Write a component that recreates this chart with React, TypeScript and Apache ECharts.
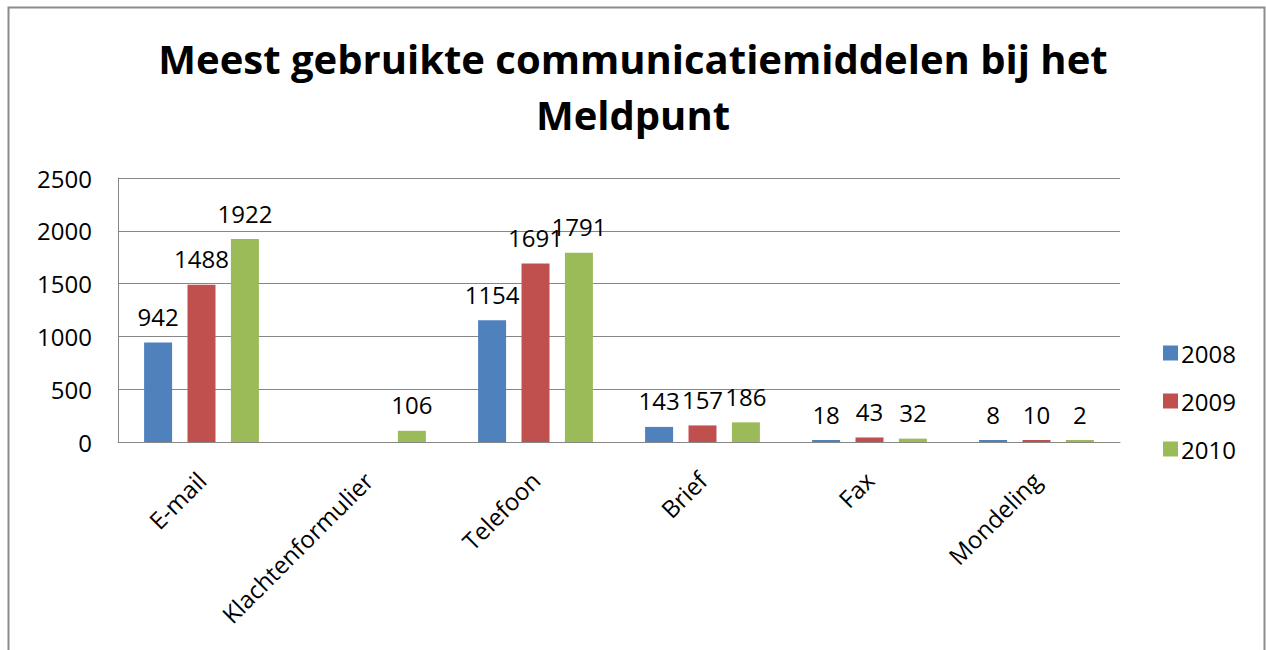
import React, { useEffect, useRef } from "react";
import * as echarts from "echarts";

const titleText = "Meest gebruikte communicatiemiddelen bij het\nMeldpunt";
const categories = ["E-mail", "Klachtenformulier", "Telefoon", "Brief", "Fax", "Mondeling"];
const seriesNames = ["2008", "2009", "2010"];
const values2008: (number | null)[] = [942, null, 1154, 143, 18, 8];
const values2009: (number | null)[] = [1488, null, 1691, 157, 43, 10];
const values2010: (number | null)[] = [1922, 106, 1791, 186, 32, 2];
const colors = ["#4F81BD", "#C0504D", "#9BBB59"];
const yTicks = { min: 0, max: 2500, interval: 500 };

const FONT = "'Open Sans', 'Noto Sans', sans-serif";

export default function App() {
  const ref = useRef<HTMLDivElement>(null);
  useEffect(() => {
    if (!ref.current) return;
    const chart = echarts.init(ref.current, null, { renderer: "svg" });
    const allValues = [values2008, values2009, values2010];
    chart.setOption({
      animation: false,
      backgroundColor: "#ffffff",
      textStyle: { fontFamily: FONT },
      title: {
        text: titleText,
        left: "center",
        top: 25,
        textStyle: {
          fontFamily: FONT,
          fontWeight: "bold",
          fontSize: 40,
          lineHeight: 56,
          color: "#000000",
        },
      },
      graphic: [
        {
          type: "rect",
          shape: { x: 8.5, y: 7.5, width: 1256, height: 660 },
          style: { fill: "none", stroke: "#8c8c8c", lineWidth: 2 },
          silent: true,
        },
      ],
      legend: {
        orient: "vertical",
        left: 1158,
        top: 336,
        itemWidth: 15,
        itemHeight: 15,
        itemGap: 24,
        icon: "rect",
        textStyle: { fontFamily: FONT, fontSize: 24, color: "#000000", padding: [0, 0, 0, -2] },
        data: seriesNames,
      },
      grid: { left: 118, right: 146, top: 178, bottom: 208, containLabel: false },
      xAxis: {
        type: "category",
        data: categories,
        axisLine: { show: true, lineStyle: { color: "#868686", width: 1 } },
        axisTick: { show: false },
        axisLabel: {
          rotate: 45,
          interval: 0,
          margin: 34,
          fontFamily: FONT,
          fontSize: 24,
          color: "#000000",
        },
      },
      yAxis: {
        type: "value",
        min: yTicks.min,
        max: yTicks.max,
        interval: yTicks.interval,
        axisLine: { show: true, lineStyle: { color: "#868686", width: 1 } },
        axisTick: { show: false },
        splitLine: { show: true, lineStyle: { color: "#868686", width: 1 } },
        axisLabel: {
          margin: 26,
          fontFamily: FONT,
          fontSize: 24,
          color: "#000000",
          formatter: (v: number) => String(v),
        },
      },
      series: seriesNames.map((name, i) => ({
        name,
        type: "bar",
        data: allValues[i],
        barWidth: 28,
        barGap: "55%",
        barMinHeight: 2,
        itemStyle: { color: colors[i] },
        label: {
          show: true,
          position: "top",
          distance: 14,
          fontFamily: FONT,
          fontSize: 24,
          color: "#000000",
        },
      })),
    });
    return () => chart.dispose();
  }, []);
  return (
    <div style={{ position: "absolute", left: 0, top: 0, width: 1266, height: 650 }}>
      <div ref={ref} style={{ width: 1266, height: 650 }} />
    </div>
  );
}
